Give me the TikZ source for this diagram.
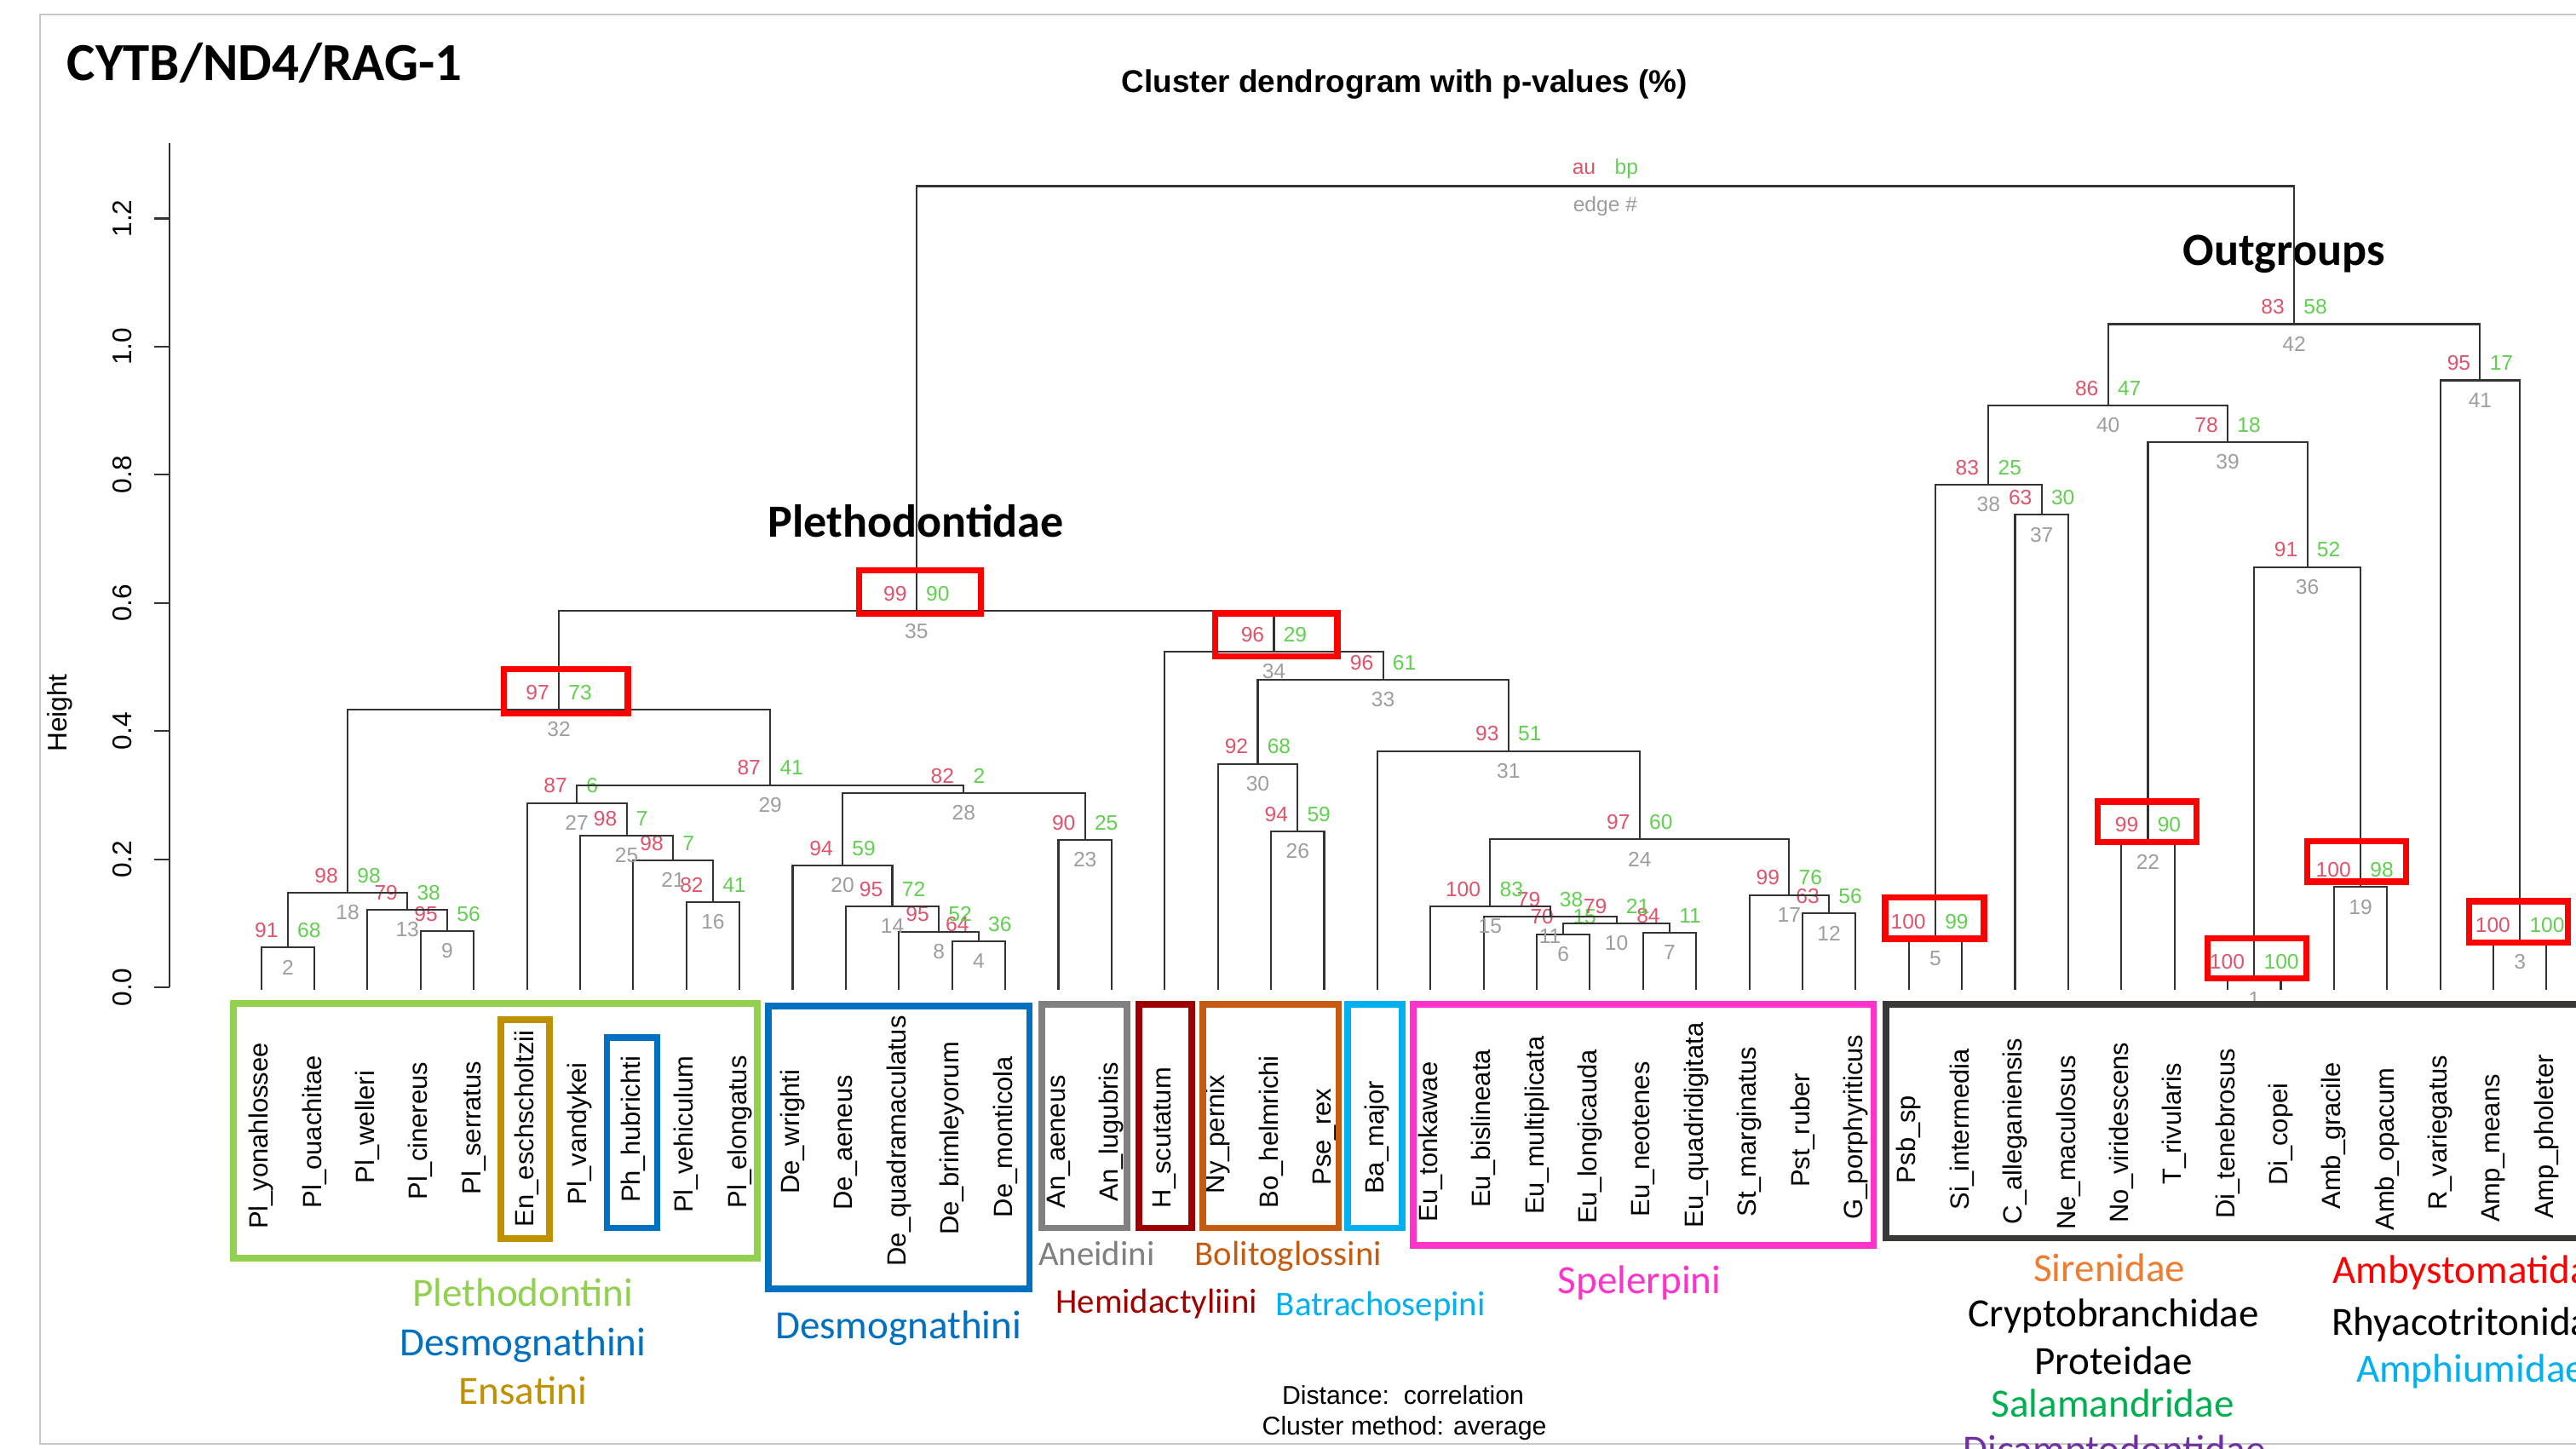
\documentclass[tikz,border=0pt]{standalone}
\usepackage{fontspec}
\setmainfont{Liberation Sans}
\newfontfamily\calib{Carlito}
\usetikzlibrary{calc}
\definecolor{aucol}{HTML}{DF536B}
\definecolor{bpcol}{HTML}{61D04F}
\definecolor{edgecol}{HTML}{9E9E9E}
\definecolor{plgreen}{HTML}{92D050}
\definecolor{goldc}{HTML}{BF9000}
\definecolor{dblue}{HTML}{0070C0}
\definecolor{agray}{HTML}{808080}
\definecolor{hred}{HTML}{9E0000}
\definecolor{borange}{HTML}{C55A11}
\definecolor{bcyan}{HTML}{00B0F0}
\definecolor{smag}{HTML}{FF33CC}
\definecolor{ogray}{HTML}{3B3838}
\definecolor{siren}{HTML}{ED7D31}
\definecolor{salam}{HTML}{00B050}
\definecolor{dicam}{HTML}{7030A0}
\definecolor{framec}{HTML}{C8C8C8}
\newcommand\mrg[7]{%
  \coordinate (#1m) at ($(#2)!0.5!(#3)$);
  \coordinate (#1y) at (0,#4);
  \coordinate (#1) at (#1m |- #1y);
  \draw[dline] (#2) |- (#1) -| (#3);
  \node[aulab] (#1au) at ($(#1)+(-5.5,-10.5)$) {#5};
  \node[bplab] (#1bp) at ($(#1)+(5.5,-10.5)$) {#6};
  \node[edgelab] (#1ed) at ($(#1)+(0,12)$) {#7};
}
\begin{document}
\begin{tikzpicture}[x=0.019286cm, y=-0.019286cm,
  dline/.style={line width=0.6pt, draw=black!80},
  num/.style={inner sep=0pt, font=\fontsize{7}{8}\selectfont},
  aulab/.style={num, anchor=east, text=aucol},
  bplab/.style={num, anchor=west, text=bpcol},
  edgelab/.style={num, anchor=center, text=edgecol},
  leaf/.style={rotate=90, inner sep=0pt, anchor=center, font=\fontsize{8.8}{10}\selectfont},
  grp/.style={line width=2.2pt},
  hl/.style={draw=red, line width=2.1pt},
  glab/.style={inner sep=0pt, anchor=base, font=\calib\fontsize{13.4}{15}\selectfont},
  glabs/.style={inner sep=0pt, anchor=base, font=\calib\fontsize{11.6}{13}\selectfont},
  rtxt/.style={inner sep=0pt, anchor=base},
  axlab/.style={rotate=90, inner sep=0pt, font=\fontsize{9}{10}\selectfont}
]
\useasboundingbox (0,0) rectangle (1568,882);
\clip (0,0) rectangle (1568,882);
\fill[white] (0,0) rectangle (1568,882);
% frame
\draw[framec, line width=0.6pt] (1600,9) -- (24.4,9) -- (24.4,878.7) -- (1600,878.7);

% titles
\node[rtxt, font=\calib\bfseries\fontsize{17.9}{20}\selectfont] (maintitle) at (161,49.1) {CYTB/ND4/RAG-1};
\node[rtxt, font=\bfseries\fontsize{10.5}{12}\selectfont] (rtitle) at (855,56.2) {Cluster dendrogram with p-values (\%)};
\node[rtxt, font=\calib\bfseries\fontsize{15.4}{17}\selectfont] (pleth) at (557.5,327) {Plethodontidae};
\node[rtxt, font=\calib\bfseries\fontsize{15.4}{17}\selectfont] (outg) at (1390.2,161.5) {Outgroups};

% axis
\draw[dline] (103,87) coordinate (axtop) -- (103,601) coordinate (axbot);
\foreach \h/\t [count=\k] in {0/0.0,0.2/0.2,0.4/0.4,0.6/0.6,0.8/0.8,1.0/1.0,1.2/1.2} {
  \draw[dline] (94,{601-390*\h}) -- (103,{601-390*\h});
  \node[axlab] (tk\k) at (74.6,{601-390*\h}) {\t};
}
\node[axlab] (ylab) at (36.4,434) {Height};

% leaves
\foreach \i/\nm/\yc in {
 1/Pl\_yonahlossee/691.5, 2/Pl\_ouachitae/689, 3/Pl\_welleri/686, 4/Pl\_cinereus/688.5,
 5/Pl\_serratus/686.5, 6/En\_eschscholtzii/687, 7/Pl\_vandykei/690, 8/Ph\_hubrichti/687.5,
 9/Pl\_vehiculum/690.5, 10/Pl\_elongatus/689, 11/De\_wrighti/689, 12/De\_aeneus/695.5,
 13/De\_quadramaculatus/694.5, 14/De\_brimleyorum/693, 15/De\_monticola/692, 16/An\_aeneus/695,
 17/An\_lugubris/689, 18/H\_scutatum/692.5, 19/Ny\_pernix/690.5, 20/Bo\_helmrichi/689,
 21/Pse\_rex/692, 22/Ba\_major/692.5, 23/Eu\_tonkawae/695, 24/Eu\_bislineata/687,
 25/Eu\_multiplicata/685, 26/Eu\_longicauda/692, 27/Eu\_neotenes/693.5, 28/Eu\_quadridigitata/685,
 29/St\_marginatus/689, 30/Pst\_ruber/688, 31/G\_porphyriticus/686, 32/Psb\_sp/693.5,
 33/Si\_intermedia/687.5, 34/C\_alleganiensis/688.5, 35/Ne\_maculosus/695.5, 36/No\_viridescens/689.5,
 37/T\_rivularis/684, 38/Di\_tenebrosus/690, 39/Di\_copei/690.5, 40/Amb\_gracile/691.5,
 41/Amb\_opacum/699.5, 42/R\_variegatus/689.5, 43/Amp\_means/699, 44/Amp\_pholeter/692} {
  \coordinate (L\i) at ({159+32.35*(\i-1)},602.5);
  \node[leaf] (lab\i) at ({159+32.35*(\i-1)},\yc) {\nm};
}

% dendrogram
\mrg{n2}{L1}{L2}{576.8}{91}{68}{2}
\mrg{n9}{L4}{L5}{566.9}{95}{56}{9}
\mrg{n13}{L3}{n9}{553.9}{79}{38}{13}
\mrg{n18}{n2}{n13}{543.6}{98}{98}{18}
\mrg{n16}{L9}{L10}{549}{82}{41}{16}
\mrg{n21}{L8}{n16}{523.7}{98}{7}{21}
\mrg{n25}{L7}{n21}{508.7}{98}{7}{25}
\mrg{n27}{L6}{n25}{488.8}{87}{6}{27}
\mrg{n4}{L14}{L15}{573}{64}{36}{4}
\mrg{n8}{L13}{n4}{567.1}{95}{52}{8}
\mrg{n14}{L12}{n8}{551.8}{95}{72}{14}
\mrg{n20}{L11}{n14}{526.8}{94}{59}{20}
\mrg{n23}{L16}{L17}{511.2}{90}{25}{23}
\mrg{n28}{n20}{n23}{482.7}{82}{2}{28}
\mrg{n29}{n27}{n28}{477.9}{87}{41}{29}
\mrg{n32}{n18}{n29}{432}{97}{73}{32}
\mrg{n26}{L20}{L21}{506}{94}{59}{26}
\mrg{n30}{L19}{n26}{464.9}{92}{68}{30}
\mrg{n6}{L25}{L26}{568.6}{70}{15}{6}
\mrg{n7}{L27}{L28}{567.8}{84}{11}{7}
\mrg{n10}{n6}{n7}{562}{79}{21}{10}
\mrg{n11}{L24}{n10}{557.9}{79}{38}{11}
\mrg{n15}{L23}{n11}{551.9}{100}{83}{15}
\mrg{n12}{L30}{L31}{556}{63}{56}{12}
\mrg{n17}{L29}{n12}{544.8}{99}{76}{17}
\mrg{n24}{n15}{n17}{510.9}{97}{60}{24}
\mrg{n31}{L22}{n24}{457.2}{93}{51}{31}
\mrg{n33}{n30}{n31}{413.9}{96}{61}{33}
\mrg{n34}{L18}{n33}{396.8}{96}{29}{34}
\mrg{n35}{n32}{n34}{372}{99}{90}{35}
\mrg{n5}{L32}{L33}{571.5}{100}{99}{5}
\mrg{n37}{L34}{L35}{313.4}{63}{30}{37}
\mrg{n38}{n5}{n37}{295.2}{83}{25}{38}
\mrg{n22}{L36}{L37}{512.5}{99}{90}{22}
\mrg{n1}{L38}{L39}{596}{100}{100}{1}
\mrg{n19}{L40}{L41}{540}{100}{98}{19}
\mrg{n36}{n1}{n19}{345.2}{91}{52}{36}
\mrg{n39}{n22}{n36}{269.2}{78}{18}{39}
\mrg{n40}{n38}{n39}{247}{86}{47}{40}
\mrg{n3}{L43}{L44}{573.5}{100}{100}{3}
\mrg{n41}{L42}{n3}{231.5}{95}{17}{41}
\mrg{n42}{n40}{n41}{197.3}{83}{58}{42}
\mrg{root}{n35}{n42}{113.3}{au}{bp}{edge \#}

% red highlight boxes
\draw[hl] (523,347) rectangle (597,373.5);
\draw[hl] (739.5,373.3) rectangle (814,399.5);
\draw[hl] (306.8,407.3) rectangle (382.1,434.4);
\draw[hl] (1147.4,546.4) rectangle (1207.7,571.5);
\draw[hl] (1276.8,487.9) rectangle (1337.1,512.4);
\draw[hl] (1343.6,571) rectangle (1403.9,595.6);
\draw[hl] (1404.3,511.9) rectangle (1464.4,536.6);
\draw[hl] (1503,548.6) rectangle (1563.2,573.8);

% group boxes
\draw[grp, plgreen] (142,611) rectangle (461,766);
\draw[grp, goldc] (304.7,620.5) rectangle (334.5,754);
\draw[grp, dblue] (369.4,631.6) rectangle (400,747.4);
\draw[grp, dblue] (467.6,612.5) rectangle (626.6,784.7);
\draw[grp, agray] (634.2,611.3) rectangle (685.8,747.4);
\draw[grp, hred] (693.1,611.3) rectangle (725.5,747.4);
\draw[grp, borange] (732.2,611.3) rectangle (814.8,747.4);
\draw[grp, bcyan] (820.4,611.3) rectangle (853.5,747.4);
\draw[grp, smag] (860.1,611.3) rectangle (1140.5,758.2);
\draw[grp, ogray] (1148,611.3) rectangle (1600,753.7);

% group labels
\node[glab, text=plgreen] (gPleth) at (318.3,795) {Plethodontini};
\node[glab, text=dblue] (gDesA) at (318.3,825) {Desmognathini};
\node[glab, text=goldc] (gEns) at (318.3,855) {Ensatini};
\node[glab, text=dblue] (gDesB) at (546.9,815) {Desmognathini};
\node[glabs, text=agray] (gAne) at (667.5,770.3) {Aneidini};
\node[glabs, text=hred] (gHem) at (704,799.4) {Hemidactyliini};
\node[glabs, text=borange] (gBol) at (784.2,770.5) {Bolitoglossini};
\node[glabs, text=bcyan] (gBat) at (840.4,800.7) {Batrachosepini};
\node[glab, text=smag] (gSpe) at (998,787.2) {Spelerpini};
\node[glab, text=siren] (gSir) at (1284,780) {Sirenidae};
\node[glab, text=black] (gCry) at (1286.5,807.6) {Cryptobranchidae};
\node[glab, text=black] (gPro) at (1286.5,836.4) {Proteidae};
\node[glab, text=salam] (gSal) at (1286,862.8) {Salamandridae};
\node[glab, text=dicam] (gDic) at (1287,890.5) {Dicamptodontidae};
\node[glab, text=red] (gAmb) at (1504,781.2) {Ambystomatidae};
\node[glab, text=black] (gRhy) at (1504,813) {Rhyacotritonidae};
\node[glab, text=bcyan] (gAmp) at (1504,841.3) {Amphiumidae};

% method text
\node[rtxt, font=\fontsize{8.6}{10}\selectfont] (dist) at (854,855) {Distance:\ \ correlation};
\node[rtxt, font=\fontsize{8.6}{10}\selectfont] (meth) at (854.8,873.2) {Cluster method: average};
\end{tikzpicture}
\end{document}
